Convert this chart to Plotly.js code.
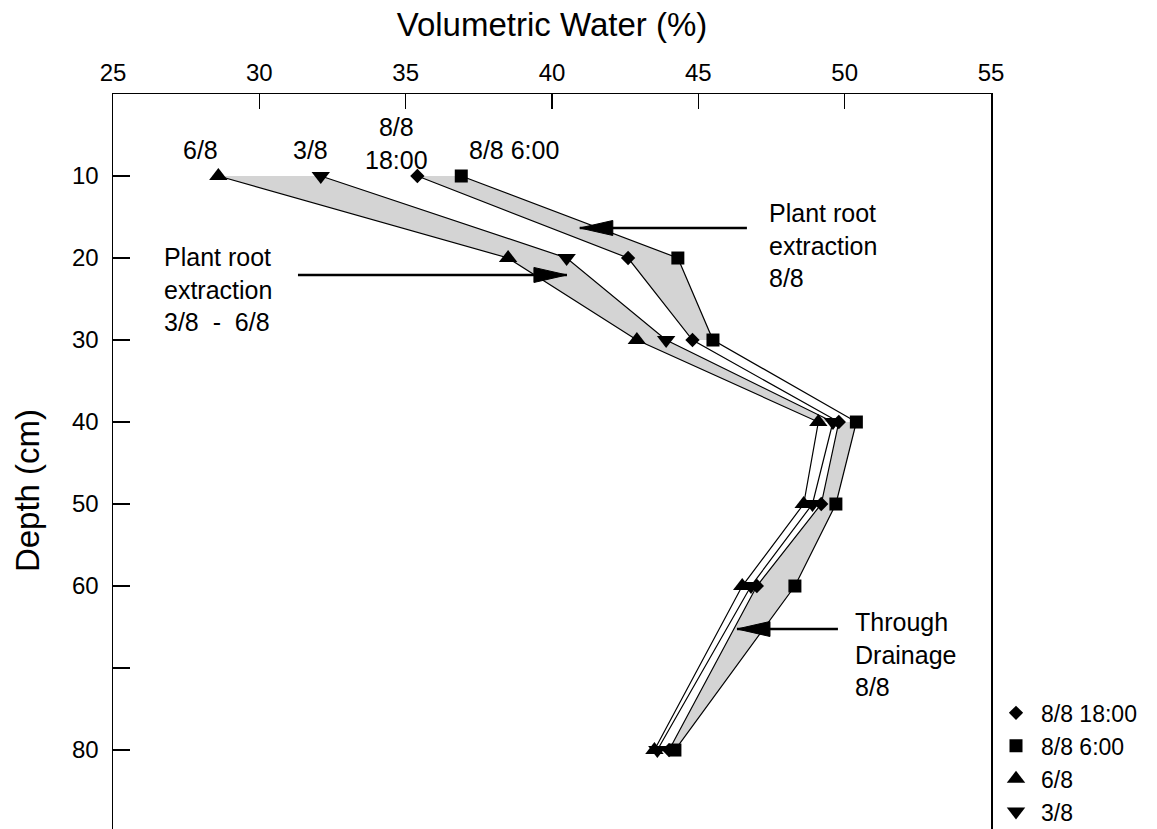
<!DOCTYPE html>
<html>
<head>
<meta charset="utf-8">
<script src="https://cdn.plot.ly/plotly-3.0.1.min.js"></script>
<style>html,body{margin:0;padding:0;background:#fff;}#chart{width:1157px;height:829px;}</style>
</head>
<body>
<div id="chart"></div>
<script>
// Depth of each measurement (cm)
const depths = [10, 20, 30, 40, 50, 60, 80];
// Volumetric water (%) per date
const seriesNames = ['8/8 18:00', '8/8 6:00', '6/8', '3/8'];
const vw_0808_1800 = [35.4, 42.6, 44.8, 49.8, 49.2, 47.0, 44.0];
const vw_0808_0600 = [36.9, 44.3, 45.5, 50.4, 49.7, 48.3, 44.2];
const vw_0608      = [28.6, 38.5, 42.9, 49.1, 48.6, 46.5, 43.5];
const vw_0308      = [32.1, 40.5, 43.9, 49.6, 48.9, 46.8, 43.6];
const symbols = ['diamond', 'square', 'triangle-up', 'triangle-down'];
const markerSizes = [11, 13, 16, 16];
const seriesValues = [vw_0808_1800, vw_0808_0600, vw_0608, vw_0308];

// y tick values / labels
const yTickVals = [0, 10, 20, 30, 40, 50, 60, 70, 80];
const yTickText = ['', '10', '20', '30', '40', '50', '60', '', '80'];

// Shaded bands: [seriesA index, seriesB index, first depth index, last depth index]
const bands = [
  [2, 3, 0, 3],
  [0, 1, 0, 2],
  [0, 1, 3, 6]
];

// Text annotations [x, y, text, xanchor]
const labels = [
  [28.0, 6.8, '6/8', 'center'],
  [31.76, 6.8, '3/8', 'center'],
  [34.7, 6.0, '8/8<br>18:00', 'center'],
  [38.7, 6.8, '8/8 6:00', 'center'],
  [47.34, 18.5, 'Plant root<br>extraction<br>8/8', 'left'],
  [26.67, 23.9, 'Plant root<br>extraction<br>3/8  -  6/8', 'left'],
  [50.28, 68.4, 'Through<br>Drainage<br>8/8', 'left']
];
// Arrows [tailX, tipX, y]
const arrows = [
  [46.66, 40.95, 16.34],
  [31.32, 40.51, 22.07],
  [49.77, 46.32, 65.24]
];

const traces = [];
bands.forEach(b => {
  const a = seriesValues[b[0]], c = seriesValues[b[1]];
  const xs = [], ys = [];
  for (let i = b[2]; i <= b[3]; i++) { xs.push(a[i]); ys.push(depths[i]); }
  for (let i = b[3]; i >= b[2]; i--) { xs.push(c[i]); ys.push(depths[i]); }
  traces.push({x: xs, y: ys, type: 'scatter', mode: 'lines', fill: 'toself',
    fillcolor: '#d4d4d4', line: {width: 0, color: 'rgba(0,0,0,0)'}, showlegend: false, hoverinfo: 'skip'});
});
seriesValues.forEach((v, k) => {
  traces.push({x: v, y: depths, type: 'scatter', mode: 'lines',
    line: {color: '#000', width: 1.2}, showlegend: false, hoverinfo: 'skip'});
});
seriesValues.forEach((v, k) => {
  traces.push({x: v, y: depths, type: 'scatter', mode: 'markers', name: seriesNames[k],
    marker: {symbol: symbols[k], size: markerSizes[k], color: '#000'}});
});

const fontFam = 'Liberation Sans, Arial, sans-serif';
const annotations = labels.map(l => ({
  x: l[0], y: l[1], xref: 'x', yref: 'y', text: l[2], showarrow: false,
  xanchor: l[3], yanchor: 'middle', align: l[3] === 'left' ? 'left' : 'center',
  font: {size: 25, color: '#000', family: fontFam}
}));
annotations.push({x: -0.098, y: 0.461, xref: 'paper', yref: 'paper', text: 'Depth (cm)',
  textangle: -90, showarrow: false, xanchor: 'center', yanchor: 'middle',
  font: {size: 33, color: '#000', family: fontFam}});

const shapes = [];
arrows.forEach(a => {
  shapes.push({type: 'line', xref: 'x', yref: 'y', x0: a[0], x1: a[1], y0: a[2], y1: a[2],
    line: {color: '#000', width: 2.5}});
  const dir = a[1] < a[0] ? 1 : -1;
  shapes.push({type: 'path', xref: 'x', yref: 'y', xsizemode: 'pixel', ysizemode: 'pixel',
    xanchor: a[1], yanchor: a[2],
    path: 'M0,0 L' + (33 * dir) + ',7.5 L' + (33 * dir) + ',-7.5 Z',
    fillcolor: '#000', line: {color: '#000', width: 1}});
});

const layout = {
  width: 1157, height: 829,
  margin: {l: 113, r: 166, t: 94, b: 0, pad: 0, autoexpand: false},
  paper_bgcolor: '#fff', plot_bgcolor: '#fff',
  font: {family: fontFam, color: '#000', size: 24},
  showlegend: true,
  legend: {x: 1.0, xanchor: 'left', y: -0.006, yanchor: 'bottom', font: {size: 23, color: '#000'},
    bgcolor: 'rgba(0,0,0,0)', borderwidth: 0, tracegroupgap: 0, itemwidth: 40},
  xaxis: {side: 'top', range: [25, 55], dtick: 5, tick0: 25, ticks: 'inside', ticklen: 15,
    tickcolor: '#000', tickwidth: 1.2, showline: true, linecolor: '#000', linewidth: 1.5,
    showgrid: false, zeroline: false, tickfont: {size: 24}, ticklabelstandoff: 2,
    title: {text: 'Volumetric Water (%)', font: {size: 33}, standoff: 12}},
  yaxis: {range: [89.63, 0], tickmode: 'array', tickvals: yTickVals, ticktext: yTickText,
    ticks: 'inside', ticklen: 17, tickcolor: '#000', tickwidth: 1.2, showline: true,
    linecolor: '#000', linewidth: 1.5, mirror: true, showgrid: false, zeroline: false,
    tickfont: {size: 24}, ticklabelstandoff: 8},
  annotations: annotations,
  shapes: shapes
};

Plotly.newPlot('chart', traces, layout, {displayModeBar: false, staticPlot: true});
</script>
</body>
</html>
